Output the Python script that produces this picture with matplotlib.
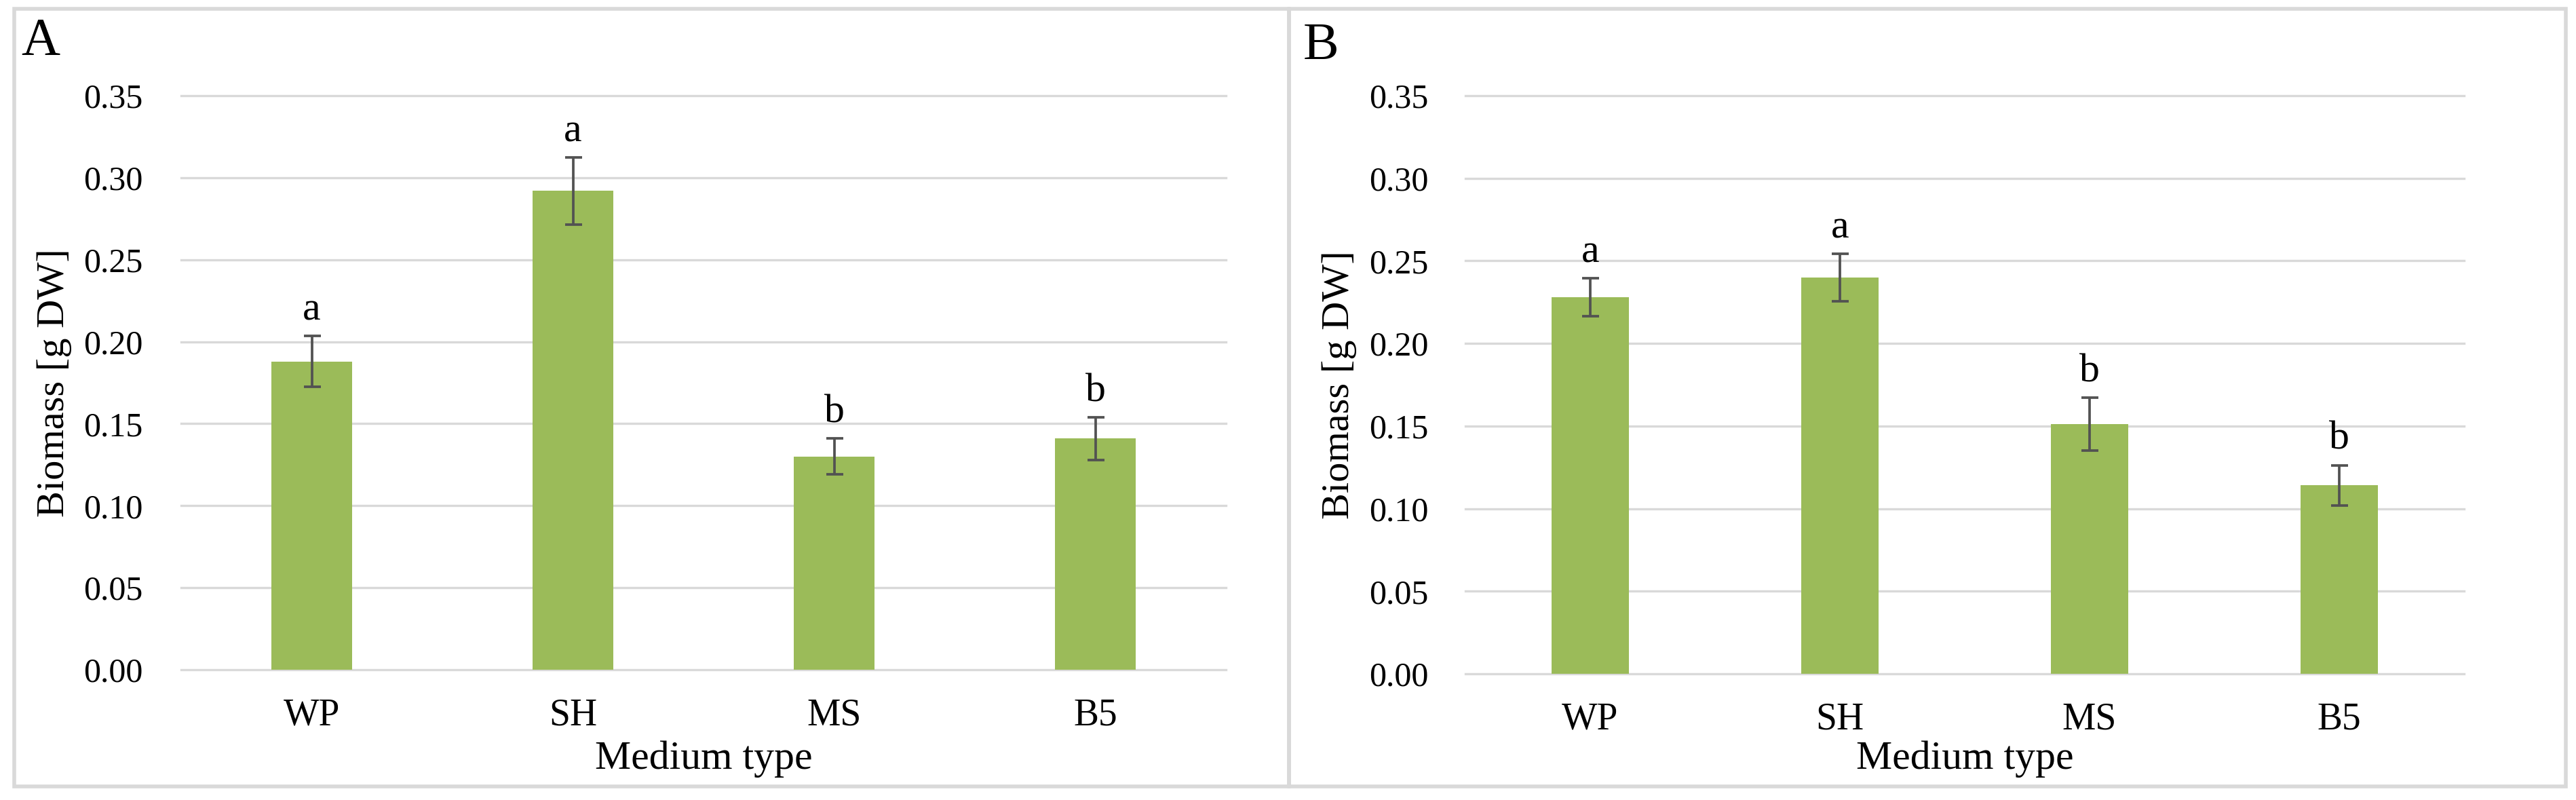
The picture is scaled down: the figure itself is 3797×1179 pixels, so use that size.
import matplotlib
matplotlib.use("Agg")
import matplotlib.pyplot as plt
from matplotlib.patches import Rectangle
import numpy as np

# ---- data ----
categories = ["WP", "SH", "MS", "B5"]
biomass_A = [0.188, 0.292, 0.130, 0.141]
error_A = [0.0155, 0.0205, 0.011, 0.013]
letters_A = ["a", "a", "b", "b"]
biomass_B = [0.228, 0.240, 0.151, 0.114]
error_B = [0.0114, 0.0144, 0.016, 0.0123]
letters_B = ["a", "a", "b", "b"]
y_ticks = [0.00, 0.05, 0.10, 0.15, 0.20, 0.25, 0.30, 0.35]
panel_labels = ["A", "B"]
y_label = "Biomass [g DW]"
x_label = "Medium type"

plt.rcParams['font.family'] = ['Liberation Serif', 'DejaVu Serif']

W, H = 3797, 1179
DPI = 100
fig = plt.figure(figsize=(W / DPI, H / DPI), dpi=DPI)
fig.patch.set_facecolor("white")

def fx(px):
    return px / W

def fy(py):
    return 1 - py / H

BAR_COLOR = "#9BBB59"
GRID_COLOR = "#D9D9D9"
ERR_COLOR = "#525252"

# panel frames
for (x0, x1) in [(21, 1900), (1900, 3782)]:
    fig.patches.append(Rectangle((fx(x0), fy(1159)), fx(x1) - fx(x0), fy(13) - fy(1159),
                                 transform=fig.transFigure, fill=False,
                                 edgecolor=GRID_COLOR, linewidth=4, zorder=0))

panels = [
    dict(left=267, right=1807, top=141, bottom=987, vals=biomass_A, errs=error_A,
         letters=letters_A, ylab_x=80, lab_x=31, lab_base=80, pad=41),
    dict(left=2160, right=3632, top=141, bottom=993, vals=biomass_B, errs=error_B,
         letters=letters_B, ylab_x=1974, lab_x=1921, lab_base=87, pad=39),
]

for p, plabel in zip(panels, panel_labels):
    ax = fig.add_axes([fx(p["left"]), fy(p["bottom"]), fx(p["right"]) - fx(p["left"]),
                       fy(p["top"]) - fy(p["bottom"])])
    x = np.arange(len(categories))
    ax.bar(x, p["vals"], width=0.31, color=BAR_COLOR, zorder=2)
    ax.errorbar(x, p["vals"], yerr=p["errs"], fmt="none", ecolor=ERR_COLOR,
                elinewidth=2.7, capsize=9, capthick=2.7, zorder=3)
    for xi, v, e, t in zip(x, p["vals"], p["errs"], p["letters"]):
        ax.annotate(t, xy=(xi, v + e), xytext=(0, 17), textcoords="offset points",
                    ha="center", va="baseline", fontsize=43, color="black")
    ax.set_xlim(-0.5, len(categories) - 0.5)
    ax.set_ylim(0, 0.35)
    ax.set_yticks(y_ticks)
    ax.set_yticklabels([f"{t:.2f}" for t in y_ticks])
    ax.set_xticks(x)
    ax.set_xticklabels(categories)
    ax.tick_params(axis="y", length=0, pad=p["pad"], labelsize=36, labelcolor="black")
    ax.tick_params(axis="x", length=0, pad=30, labelsize=40, labelcolor="black")
    for s in ax.spines.values():
        s.set_visible(False)
    ax.set_axisbelow(True)
    ax.yaxis.grid(True, color=GRID_COLOR, linewidth=2.4)
    for gl in ax.get_ygridlines():
        gl.set_clip_on(False)
    ax.set_facecolor("none")

    cx = (p["left"] + p["right"]) / 2
    fig.text(fx(cx), fy(1133), x_label, ha="center", va="baseline", fontsize=43)
    fig.text(fx(p["ylab_x"]), fy((p["top"] + p["bottom"]) / 2), y_label, rotation=90,
             ha="center", va="center", fontsize=42)
    fig.text(fx(p["lab_x"]), fy(p["lab_base"]), plabel, ha="left", va="baseline", fontsize=57)

fig.savefig("out.png", dpi=DPI, facecolor="white")
